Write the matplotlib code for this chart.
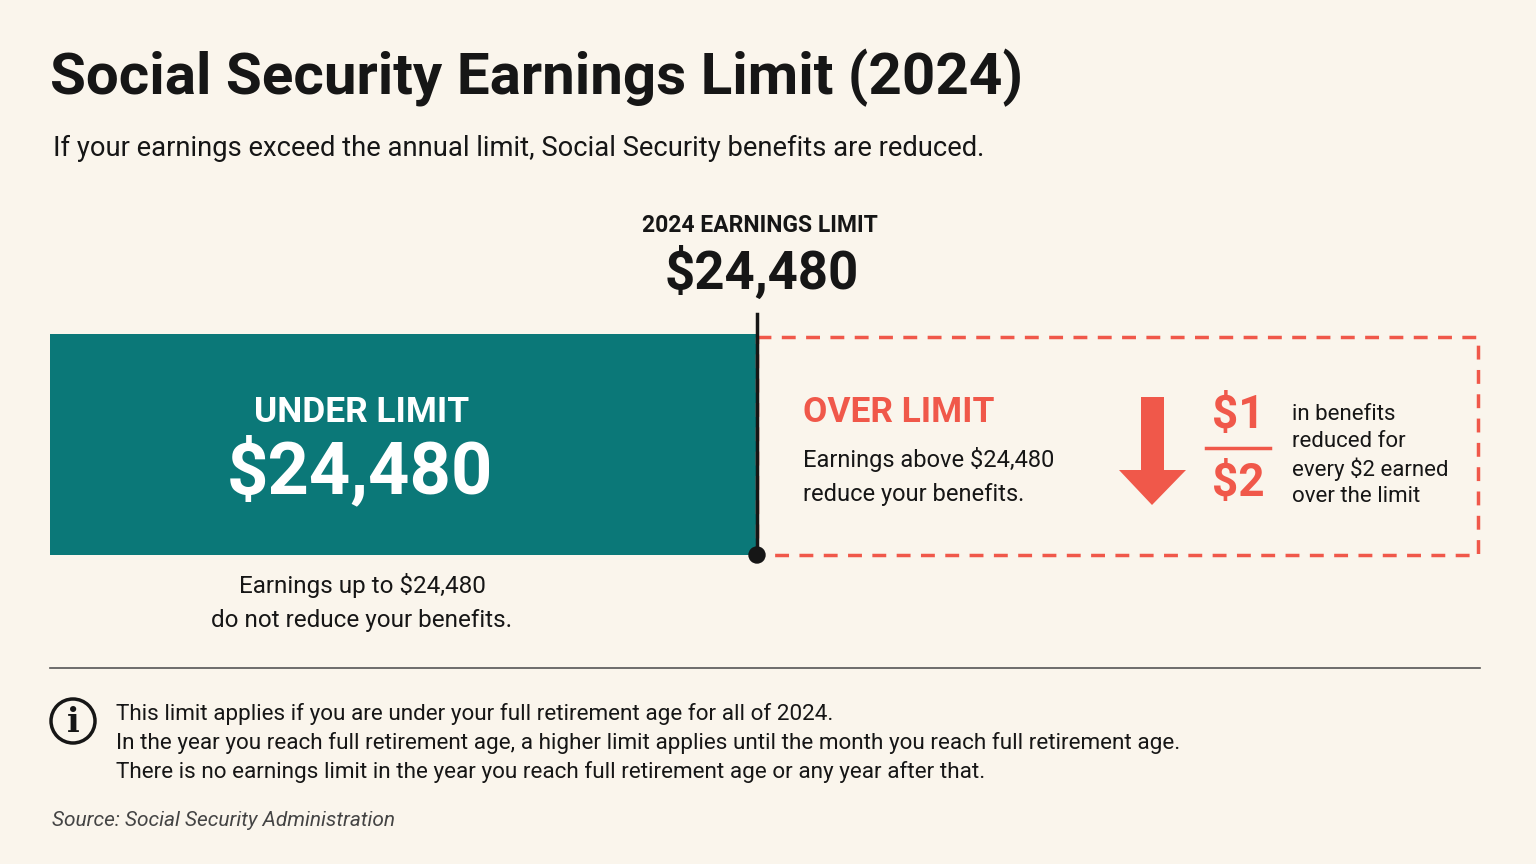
import matplotlib
matplotlib.use("Agg")
import matplotlib.pyplot as plt
from matplotlib.patches import Rectangle, Polygon, Circle

limit = 24480
year = 2024
reduction = [1, 2]
notes = [
    "This limit applies if you are under your full retirement age for all of 2024.",
    "In the year you reach full retirement age, a higher limit applies until the month you reach full retirement age.",
    "There is no earnings limit in the year you reach full retirement age or any year after that.",
]
over_lines = ["in benefits", "reduced for", "every $2 earned", "over the limit"]

BG = "#FAF5EC"
TEAL = "#0B7878"
RED = "#F0584A"
INK = "#161616"
FONT = ["Roboto", "DejaVu Sans"]
plt.rcParams["font.family"] = FONT

fig = plt.figure(figsize=(15.36, 8.64), dpi=100, facecolor=BG)
ax = fig.add_axes([0, 0, 1, 1])
ax.set_xlim(0, 1536); ax.set_ylim(864, 0); ax.axis("off")
ax.set_facecolor(BG)

lim = f"${limit:,}"
ax.text(50, 78, f"Social Security Earnings Limit ({year})", fontsize=42, fontweight="bold",
        color=INK, va="center", ha="left")
ax.text(53, 148, "If your earnings exceed the annual limit, Social Security benefits are reduced.",
        fontsize=19.7, color=INK, va="center")
ax.text(760, 226, f"{year} EARNINGS LIMIT", fontsize=16.5, fontweight="bold", color=INK,
        ha="center", va="center")
ax.text(762, 273, lim, fontsize=38, fontweight="bold", color=INK, ha="center", va="center")

ax.add_patch(Rectangle((50, 334), 707, 221, color=TEAL, lw=0))
ax.add_patch(Rectangle((757, 337), 721, 218, fill=False, ec=RED, lw=2.5, ls=(0, (4, 3))))
ax.plot([757, 757], [314, 555], color=INK, lw=2.5)
ax.add_patch(Circle((757, 555), 8, color=INK))

ax.text(362, 412, "UNDER LIMIT", fontsize=25.5, fontweight="bold", color="white", ha="center", va="center")
ax.text(360, 473, lim, fontsize=52, fontweight="bold", color="white", ha="center", va="center")
ax.text(362, 586, f"Earnings up to {lim}", fontsize=17.5, color=INK, ha="center", va="center")
ax.text(362, 621, "do not reduce your benefits.", fontsize=17.5, color=INK, ha="center", va="center")

ax.text(803, 412, "OVER LIMIT", fontsize=25.5, fontweight="bold", color=RED, va="center")
ax.text(803, 460, f"Earnings above {lim}", fontsize=17, color=INK, va="center")
ax.text(803, 494, "reduce your benefits.", fontsize=17, color=INK, va="center")

ax.add_patch(Polygon([(1141, 397), (1164, 397), (1164, 470), (1186, 470), (1152, 505),
                      (1119, 470), (1141, 470)], color=RED, lw=0))
ax.text(1238, 415, f"${reduction[0]}", fontsize=33, fontweight="bold", color=RED, ha="center", va="center")
ax.plot([1206, 1270], [448, 448], color=RED, lw=2.5)
ax.text(1238, 483, f"${reduction[1]}", fontsize=33, fontweight="bold", color=RED, ha="center", va="center")
for i, t in enumerate(over_lines):
    ax.text(1292, 414 + i * 27.5, t, fontsize=16, color=INK, va="center")

ax.plot([50, 1480], [668, 668], color="#555555", lw=1.2)
ax.add_patch(Circle((73, 721), 22, fill=False, ec=INK, lw=2.5))
ax.text(73, 722, "i", fontsize=24, fontweight="bold", family="DejaVu Serif", color=INK,
        ha="center", va="center")
for i, t in enumerate(notes):
    ax.text(116, 714 + i * 29, t, fontsize=16.2, color=INK, va="center")
ax.text(52, 820, "Source: Social Security Administration", fontsize=15, style="italic",
        color="#444444", va="center")

fig.savefig("out.png", dpi=100, facecolor=BG)
